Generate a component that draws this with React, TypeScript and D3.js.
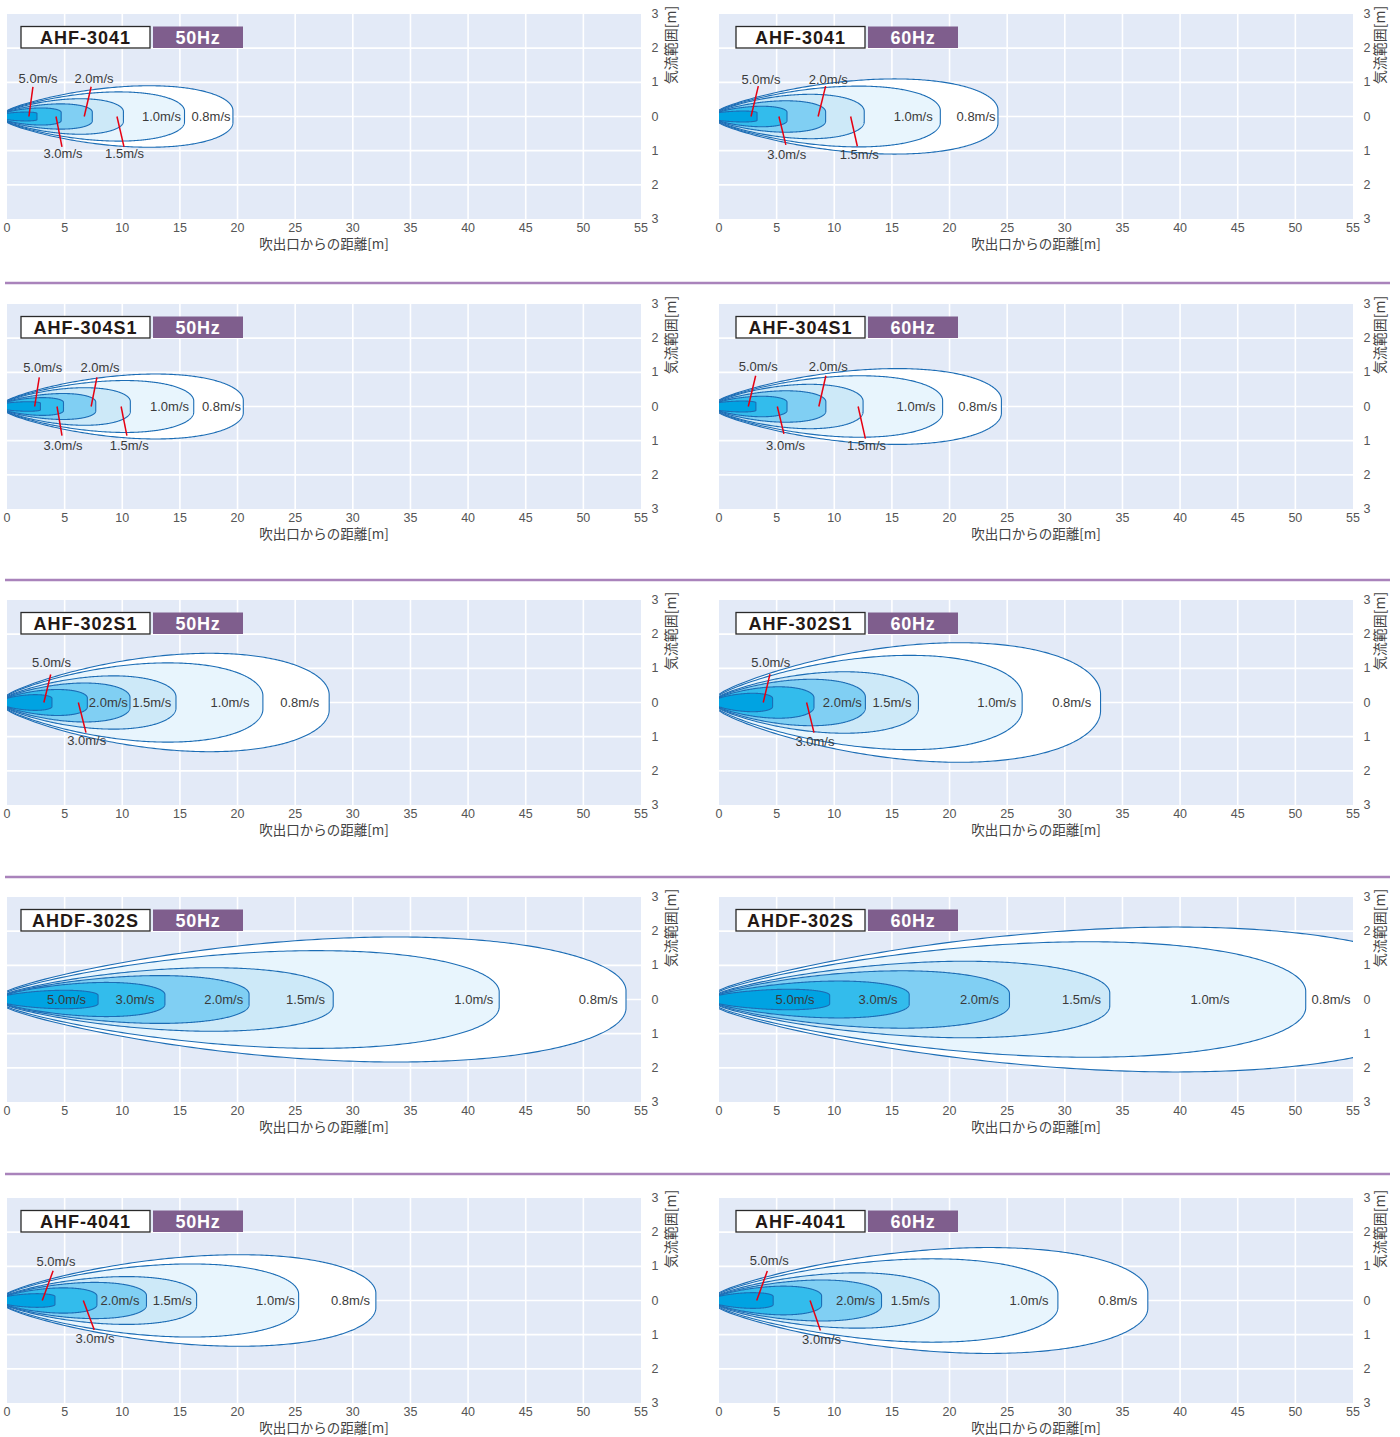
import React from "react";
import * as d3 from "d3";

// ---------- data ----------
const SPEEDS = ["0.8m/s", "1.0m/s", "1.5m/s", "2.0m/s", "3.0m/s", "5.0m/s"];
const MODELS = ["AHF-3041", "AHF-304S1", "AHF-302S1", "AHDF-302S", "AHF-4041"];
const FREQS = ["50Hz", "60Hz"];
const X_TICKS = [0, 5, 10, 15, 20, 25, 30, 35, 40, 45, 50, 55];
const Y_TICKS = [3, 2, 1, 0, -1, -2, -3];
const X_TITLE = "吹出口からの距離[m]";
const Y_TITLE = "気流範囲[m]";

// reach (m) and max half-width (m) of each isovel, order: 0.8,1.0,1.5,2.0,3.0,5.0 m/s
const AHF3041_50_LEN = [19.6, 15.4, 10.1, 7.4, 4.7, 2.6];
const AHF3041_50_HW = [0.9, 0.72, 0.52, 0.37, 0.25, 0.13];
const AHF3041_60_LEN = [24.2, 19.2, 12.6, 9.25, 5.9, 3.3];
const AHF3041_60_HW = [1.1, 0.89, 0.65, 0.46, 0.3, 0.16];
const AHF304S1_50_LEN = [20.5, 16.2, 10.7, 7.7, 4.9, 2.9];
const AHF304S1_50_HW = [0.95, 0.76, 0.55, 0.38, 0.26, 0.14];
const AHF304S1_60_LEN = [24.5, 19.4, 12.5, 9.27, 5.9, 3.2];
const AHF304S1_60_HW = [1.11, 0.9, 0.65, 0.46, 0.3, 0.16];
const AHF302S1_50_LEN = [27.95, 22.2, 14.66, 10.67, 6.97, 3.9];
const AHF302S1_50_HW = [1.44, 1.16, 0.78, 0.57, 0.38, 0.23];
const AHF302S1_60_LEN = [33.1, 26.3, 17.3, 12.7, 8.24, 4.65];
const AHF302S1_60_HW = [1.75, 1.38, 0.9, 0.68, 0.46, 0.27];
const AHDF302S_50_LEN = [53.7, 42.7, 28.3, 21.0, 13.7, 7.9];
const AHDF302S_50_HW = [1.83, 1.43, 0.93, 0.7, 0.5, 0.27];
const AHDF302S_60_LEN = [63, 50.9, 33.9, 25.2, 16.5, 9.6];
const AHDF302S_60_HW = [2.12, 1.69, 1.12, 0.84, 0.54, 0.3];
const AHF4041_50_LEN = [32.0, 25.3, 16.45, 12.1, 7.8, 4.16];
const AHF4041_50_HW = [1.34, 1.07, 0.7, 0.53, 0.37, 0.2];
const AHF4041_60_LEN = [37.2, 29.4, 19.1, 14.1, 8.9, 4.7];
const AHF4041_60_HW = [1.55, 1.22, 0.81, 0.6, 0.42, 0.23];

// label positions (m) and leader lines [x1,y1,x2,y2] (m)
const AHF3041_50_LX = [17.7, 13.4, 10.2, 7.55, 4.86, 2.7];
const AHF3041_50_LY = [0, 0, -1.09, 1.1, -1.09, 1.1];
const AHF3041_50_LEAD = [null, null, [9.54, 0, 10.15, -0.89], [7.3, 0.87, 6.7, 0], [4.25, 0, 4.77, -0.89], [2.25, 0.87, 1.9, 0]];
const AHF3041_60_LX = [22.3, 16.85, 12.17, 9.48, 5.87, 3.64];
const AHF3041_60_LY = [0, 0, -1.11, 1.08, -1.11, 1.08];
const AHF3041_60_LEAD = [null, null, [11.42, 0, 12, -0.87], [9.25, 0.89, 8.6, 0], [5.2, 0, 5.8, -0.83], [3.41, 0.89, 2.78, 0]];
const AHF304S1_50_LX = [18.6, 14.1, 10.6, 8.07, 4.86, 3.1];
const AHF304S1_50_LY = [0, 0, -1.14, 1.14, -1.14, 1.14];
const AHF304S1_50_LEAD = [null, null, [9.9, 0, 10.4, -0.85], [7.8, 0.85, 7.3, 0], [4.34, 0, 4.77, -0.85], [2.8, 0.85, 2.4, 0]];
const AHF304S1_60_LX = [22.45, 17.1, 12.8, 9.48, 5.78, 3.4];
const AHF304S1_60_LY = [0, 0, -1.13, 1.17, -1.13, 1.17];
const AHF304S1_60_LEAD = [null, null, [12.07, 0, 12.7, -0.94], [9.27, 0.9, 8.66, 0], [5.06, 0, 5.63, -0.8], [3.18, 0.9, 2.54, 0]];
const AHF302S1_50_LX = [25.4, 19.34, 12.55, 8.79, 6.91, 3.87];
const AHF302S1_50_LY = [0, 0, 0, 0, -1.1, 1.16];
const AHF302S1_50_LEAD = [null, null, null, null, [6.19, 0, 6.85, -0.88], [3.79, 0.82, 3.2, 0]];
const AHF302S1_60_LX = [30.6, 24.1, 15.0, 10.7, 8.32, 4.5];
const AHF302S1_60_LY = [0, 0, 0, 0, -1.14, 1.16];
const AHF302S1_60_LEAD = [null, null, null, null, [7.6, 0, 8.24, -0.88], [4.42, 0.83, 3.84, 0]];
const AHDF302S_50_LX = [51.3, 40.5, 25.9, 18.8, 11.1, 5.17];
const AHDF302S_50_LY = [0, 0, 0, 0, 0, 0];
const AHDF302S_60_LX = [53.1, 42.6, 31.45, 22.6, 13.8, 6.6];
const AHDF302S_60_LY = [0, 0, 0, 0, 0, 0];
const NO_LEAD = [null, null, null, null, null, null];
const AHF4041_50_LX = [29.8, 23.3, 14.34, 9.8, 7.63, 4.25];
const AHF4041_50_LY = [0, 0, 0, 0, -1.12, 1.14];
const AHF4041_50_LEAD = [null, null, null, null, [6.62, 0, 7.57, -0.86], [4.0, 0.87, 3.06, 0]];
const AHF4041_60_LX = [34.6, 26.9, 16.6, 11.84, 8.9, 4.36];
const AHF4041_60_LY = [0, 0, 0, 0, -1.13, 1.16];
const AHF4041_60_LEAD = [null, null, null, null, [7.9, 0, 8.8, -0.88], [4.19, 0.86, 3.27, 0]];

type Panel = { len: number[]; hw: number[]; lx: number[]; ly: number[]; lead: (number[] | null)[] };

const PANELS: Panel[][] = [
  [
    { len: AHF3041_50_LEN, hw: AHF3041_50_HW, lx: AHF3041_50_LX, ly: AHF3041_50_LY, lead: AHF3041_50_LEAD },
    { len: AHF3041_60_LEN, hw: AHF3041_60_HW, lx: AHF3041_60_LX, ly: AHF3041_60_LY, lead: AHF3041_60_LEAD },
  ],
  [
    { len: AHF304S1_50_LEN, hw: AHF304S1_50_HW, lx: AHF304S1_50_LX, ly: AHF304S1_50_LY, lead: AHF304S1_50_LEAD },
    { len: AHF304S1_60_LEN, hw: AHF304S1_60_HW, lx: AHF304S1_60_LX, ly: AHF304S1_60_LY, lead: AHF304S1_60_LEAD },
  ],
  [
    { len: AHF302S1_50_LEN, hw: AHF302S1_50_HW, lx: AHF302S1_50_LX, ly: AHF302S1_50_LY, lead: AHF302S1_50_LEAD },
    { len: AHF302S1_60_LEN, hw: AHF302S1_60_HW, lx: AHF302S1_60_LX, ly: AHF302S1_60_LY, lead: AHF302S1_60_LEAD },
  ],
  [
    { len: AHDF302S_50_LEN, hw: AHDF302S_50_HW, lx: AHDF302S_50_LX, ly: AHDF302S_50_LY, lead: NO_LEAD },
    { len: AHDF302S_60_LEN, hw: AHDF302S_60_HW, lx: AHDF302S_60_LX, ly: AHDF302S_60_LY, lead: NO_LEAD },
  ],
  [
    { len: AHF4041_50_LEN, hw: AHF4041_50_HW, lx: AHF4041_50_LX, ly: AHF4041_50_LY, lead: AHF4041_50_LEAD },
    { len: AHF4041_60_LEN, hw: AHF4041_60_HW, lx: AHF4041_60_LX, ly: AHF4041_60_LY, lead: AHF4041_60_LEAD },
  ],
];

// ---------- layout / style ----------
const COL_X0 = [7, 719];
const ROW_Y0 = [14, 304, 600, 897, 1198];
const PLOT_W = 634;
const PLOT_H = 205;
const SEP_Y = [283, 580, 877, 1174];
const TITLE_DX = [14, 17];
const FILLS = ["#ffffff", "#e8f5fd", "#cde9f8", "#80cff3", "#33bcec", "#00a3e2"];
const STROKE = "#1c6db5";
const BG = "#e3eaf7";
const LATIN = "'Liberation Sans', Arial, sans-serif";
const CJK = "'Noto Sans CJK JP', 'Noto Sans', sans-serif";

function outline(L: number, W: number, x: d3.ScaleLinear<number, number>, y: d3.ScaleLinear<number, number>) {
  const h0 = Math.min(W * 0.7, 0.1 + 0.08 * W);
  const a = 0.85;
  const tp = a / (a + 0.5);
  const gmax = Math.pow(tp, a) * Math.sqrt(1 - tp);
  const N = 160;
  const top: [number, number][] = d3.range(N + 1).map((i) => {
    const s = i / N;
    const t = 1 - (1 - s) * (1 - s);
    const g = (Math.pow(t, a) * Math.sqrt(Math.max(0, 1 - t))) / gmax;
    const h = (h0 + (W - h0) * g) * (t < 1 ? 1 : 0);
    return [t * L, h];
  });
  const pts: [number, number][] = [...top, ...top.slice(0, -1).reverse().map(([a1, b]) => [a1, -b] as [number, number])];
  const line = d3
    .line<[number, number]>()
    .x((d) => x(d[0]))
    .y((d) => y(d[1]))
    .curve(d3.curveLinear);
  return line(pts) as string;
}

function PanelView({ r, c }: { r: number; c: number }) {
  const p = PANELS[r][c];
  const x0 = COL_X0[c];
  const y0 = ROW_Y0[r];
  const x = d3.scaleLinear().domain([0, 55]).range([x0, x0 + PLOT_W]);
  const y = d3.scaleLinear().domain([3, -3]).range([y0, y0 + PLOT_H]);
  const clipId = `clip-${r}-${c}`;
  const right = x0 + PLOT_W;
  const bottom = y0 + PLOT_H;
  const tx = x0 + TITLE_DX[c];
  return (
    <g>
      <defs>
        <clipPath id={clipId}>
          <rect x={x0} y={y0} width={PLOT_W} height={PLOT_H} />
        </clipPath>
      </defs>
      <rect x={x0} y={y0} width={PLOT_W} height={PLOT_H} fill={BG} />
      {X_TICKS.filter((v) => v > 0 && v < 55).map((v) => (
        <line key={"gx" + v} x1={x(v)} x2={x(v)} y1={y0} y2={bottom} stroke="#fff" strokeWidth={1.6} />
      ))}
      {Y_TICKS.filter((v) => Math.abs(v) < 3).map((v) => (
        <line key={"gy" + v} x1={x0} x2={right} y1={y(v)} y2={y(v)} stroke="#fff" strokeWidth={1.6} />
      ))}
      <g clipPath={`url(#${clipId})`}>
        {p.len.map((L, i) => [
          <path key={"f" + i} d={outline(L, p.hw[i], x, y) + "Z"} fill={FILLS[i]} stroke="none" />,
          <path key={"s" + i} d={outline(L, p.hw[i], x, y)} fill="none" stroke={STROKE} strokeWidth={1.1} />,
        ])}
      </g>
      {p.lead.map((ld, i) =>
        ld ? (
          <line key={"ld" + i} x1={x(ld[0])} y1={y(ld[1])} x2={x(ld[2])} y2={y(ld[3])} stroke="#e60012" strokeWidth={1.5} />
        ) : null
      )}
      {SPEEDS.map((s, i) => (
        <text
          key={"lb" + i}
          x={x(p.lx[i])}
          y={y(p.ly[i])}
          textAnchor="middle"
          dominantBaseline="central"
          fontFamily={LATIN}
          fontSize={13}
          fill="#3a3a3a"
        >
          {s}
        </text>
      ))}
      {/* title */}
      <rect x={tx} y={y0 + 12.5} width={129} height={21.5} fill="#fff" stroke="#2a2a2a" strokeWidth={1.3} />
      <text
        x={tx + 64.5}
        y={y0 + 23.5}
        textAnchor="middle"
        dominantBaseline="central"
        fontFamily={LATIN}
        fontWeight="bold"
        fontSize={18}
        letterSpacing={1}
        fill="#231815"
      >
        {MODELS[r]}
      </text>
      <rect x={tx + 132} y={y0 + 12.5} width={90} height={21.5} fill="#7f5e8d" />
      <text
        x={tx + 177}
        y={y0 + 23.5}
        textAnchor="middle"
        dominantBaseline="central"
        fontFamily={LATIN}
        fontWeight="bold"
        fontSize={18}
        letterSpacing={0.8}
        fill="#fff"
      >
        {FREQS[c]}
      </text>
      {/* x axis */}
      {X_TICKS.map((v) => (
        <text
          key={"xt" + v}
          x={x(v)}
          y={bottom + 8.5}
          textAnchor="middle"
          dominantBaseline="central"
          fontFamily={LATIN}
          fontSize={12.5}
          fill="#555"
        >
          {v}
        </text>
      ))}
      <text
        x={(x0 + right) / 2}
        y={bottom + 24}
        textAnchor="middle"
        dominantBaseline="central"
        fontFamily={CJK}
        fontSize={13.5}
        fill="#444"
      >
        {X_TITLE}
      </text>
      {/* y axis */}
      {Y_TICKS.map((v) => (
        <text
          key={"yt" + v}
          x={right + 14}
          y={y(v)}
          textAnchor="middle"
          dominantBaseline="central"
          fontFamily={LATIN}
          fontSize={12.5}
          fill="#555"
        >
          {Math.abs(v)}
        </text>
      ))}
      <text
        transform={`translate(${right + (c === 0 ? 29 : 26)},${y0 + 31}) rotate(-90)`}
        textAnchor="middle"
        dominantBaseline="central"
        fontFamily={CJK}
        fontSize={14}
        fill="#444"
      >
        {Y_TITLE}
      </text>
    </g>
  );
}

export default function App() {
  return (
    <svg width={1400} height={1437} style={{ display: "block", position: "absolute", left: 0, top: 0 }}>
      <rect width={1400} height={1437} fill="#fff" />
      {SEP_Y.map((sy) => (
        <line key={sy} x1={5} x2={1390} y1={sy} y2={sy} stroke="#a983bb" strokeWidth={2.5} />
      ))}
      {MODELS.map((_, r) => FREQS.map((__, c) => <PanelView key={r + "-" + c} r={r} c={c} />))}
    </svg>
  );
}
